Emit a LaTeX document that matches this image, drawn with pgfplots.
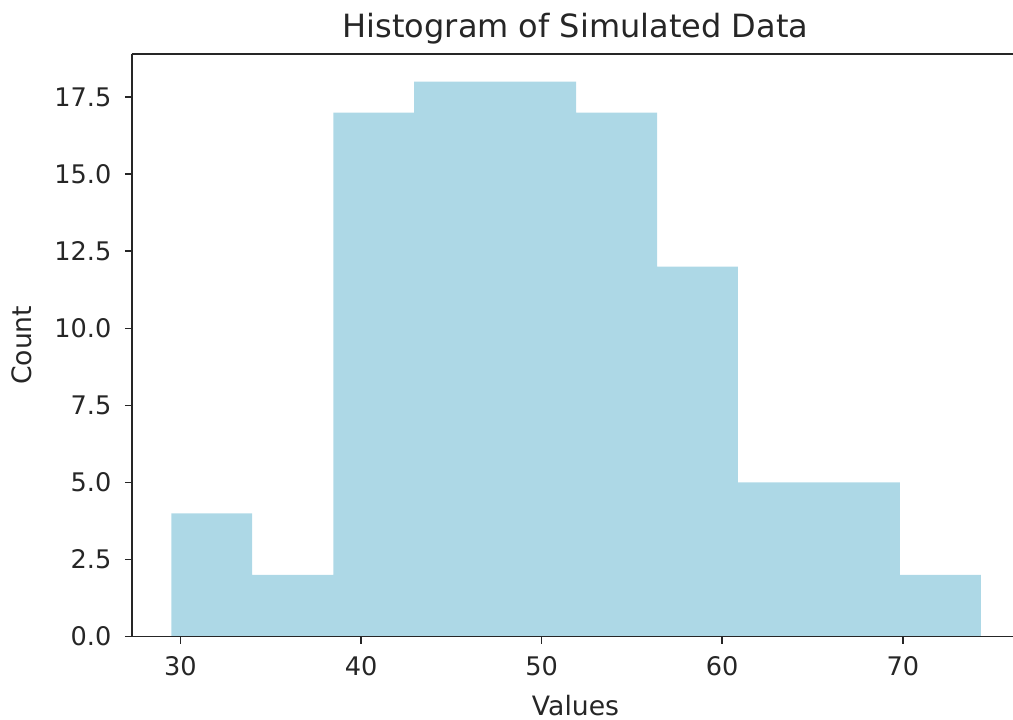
\documentclass[border=0pt]{standalone}
\usepackage{fontspec}
\setmainfont{DejaVu Sans}
\usepackage{pgfplots}
\pgfplotsset{compat=1.18}
\definecolor{histblue}{HTML}{ADD8E6}
\definecolor{txt}{HTML}{262626}

% counts per bin, last row closes the final interval
\pgfplotstableread{
edge   count
29.49  4
33.97  2
38.46  17
42.94  18
47.42  18
51.91  17
56.39  12
60.87  5
65.35  5
69.84  2
74.32  2
}\histdata

\begin{document}
\begin{tikzpicture}
\begin{axis}[
    name=ax,
    scale only axis,
    width=330.5pt, height=218.5pt,
    xmin=27.3, xmax=76.1,
    ymin=0, ymax=18.9,
    axis x line=box,
    axis y line=left,
    axis line style={-, line width=0.6pt, color=txt},
    xtick pos=bottom, ytick pos=left,
    xtick={30,40,50,60,70},
    ytick={0,2.5,...,17.5},
    yticklabel style={/pgf/number format/fixed, /pgf/number format/fixed zerofill,
        /pgf/number format/precision=1, xshift=-1.5pt},
    tick align=outside,
    major tick length=2.6pt,
    tick style={line width=0.6pt, color=txt},
    /pgf/number format/assume math mode=true,
    ticklabel style={font=\fontsize{9.6}{11}\selectfont, text=txt},
    xticklabel style={yshift=-1.5pt},
    title={Histogram of Simulated Data},
    title style={at={(axis description cs:0.5036,1)}, anchor=base, yshift=0pt,
        font=\fontsize{12}{14}\selectfont, text=txt, inner sep=0pt},
    xlabel={Values},
    xlabel style={at={(axis description cs:0.5036,0)}, anchor=base, yshift=-29.4pt,
        font=\fontsize{10}{12}\selectfont, text=txt, inner sep=0pt},
    ylabel={Count},
    ylabel style={at={(axis description cs:0,0.5)}, anchor=base,
        yshift=37.4pt, font=\fontsize{10}{12}\selectfont, text=txt, inner sep=0pt},
    axis on top,
]
\addplot[ybar interval, fill=histblue, draw=none] table[x=edge, y=count] {\histdata};
\end{axis}
\pgfresetboundingbox
\path[use as bounding box] ([xshift=-49.4pt, yshift=-31.2pt]ax.south west)
    rectangle ([yshift=20.25pt]ax.north east);
\end{tikzpicture}
\end{document}
